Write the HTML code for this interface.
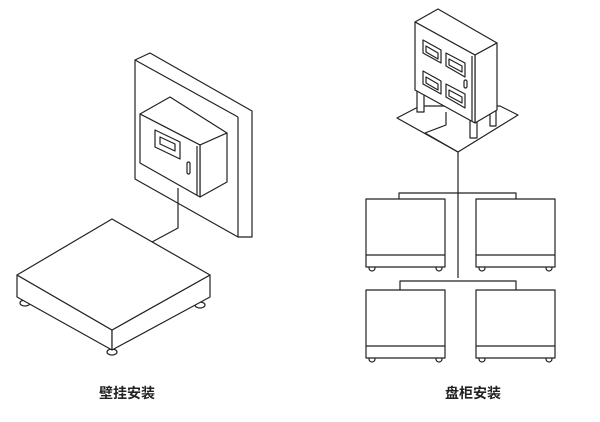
<!DOCTYPE html>
<html><head><meta charset="utf-8"><style>
html,body{margin:0;padding:0;background:#fff;width:600px;height:422px;overflow:hidden}
.t{position:absolute;font-family:"Liberation Sans","Noto Sans CJK SC",sans-serif;font-size:14px;font-weight:bold;color:#222;top:383px}
</style></head><body>
<svg width="600" height="422" style="position:absolute;left:0;top:0" fill="#fff" stroke="#222" stroke-width="1.2" stroke-linejoin="round">
<polygon points="135,60 150,53 252,111 252,237 238,237 135,179"/>
<line x1="135" y1="60" x2="238" y2="117"/><line x1="238" y1="117" x2="238" y2="237"/>
<polygon points="140,114 170,97 227,133 200,145"/>
<polygon points="200,145 227,133 227,182 200,197"/>
<polygon points="140,114 200,145 200,197 140,163"/>
<line x1="197" y1="146" x2="197" y2="195"/>
<polygon points="155,130 180,142 180,159 155,147"/>
<polygon points="160,137 175,144 175,151 160,144"/>
<rect x="187" y="162" width="3" height="12" rx="1.5"/>
<polyline fill="none" points="178,188 178,228 152,242"/>
<ellipse cx="25" cy="303" rx="5" ry="3"/><ellipse cx="200" cy="305" rx="5" ry="3"/><ellipse cx="112" cy="352" rx="5" ry="3"/>
<polygon points="17,275 112,330 112,350 17,297"/>
<polygon points="112,330 210,275 210,297 112,350"/>
<polygon points="112,219 210,275 112,330 17,275"/>
<polygon points="397,118 420,106 500,106 518,115 458,152"/>
<polyline fill="none" points="446,112 446,125 425,133 458,152"/>
<rect x="417" y="90" width="7" height="22"/><rect x="470" y="118" width="7" height="20"/><rect x="490" y="108" width="6" height="18"/>
<polygon points="415,22 438,9 497,43 475,55"/>
<polygon points="475,55 497,43 497,110 475,123"/>
<polygon points="415,22 475,55 475,123 415,90"/>
<line x1="472" y1="56" x2="472" y2="121"/>
<polygon points="423,40 441,50 441,63 423,53"/><polygon points="446,53 465,63 465,77 446,66"/>
<polygon points="423,71 441,81 441,94 423,84"/><polygon points="446,84 465,94 465,108 446,97"/>
<polygon points="426,46 438,53 438,59 426,52"/><polygon points="449,59 462,66 462,72 449,65"/>
<polygon points="426,77 438,84 438,90 426,83"/><polygon points="449,90 462,97 462,103 449,96"/>
<rect x="464" y="80" width="3" height="8" rx="1.5"/>
<polyline fill="none" points="458,152 458,278"/>
<polyline fill="none" points="399,200 399,193 516,193 516,200"/>
<polyline fill="none" points="400,290 400,281 516,281 516,290"/>
<g id="s"><circle cx="372" cy="268" r="3"/><circle cx="439" cy="268" r="3"/>
<rect x="366" y="199" width="79" height="68"/><line x1="366" y1="255" x2="445" y2="255"/></g>
<use href="#s" x="110"/><use href="#s" y="91"/><use href="#s" x="110" y="91"/>
</svg>
<div class="t" style="left:99px">壁挂安装</div>
<div class="t" style="left:445px">盘柜安装</div>
</body></html>
